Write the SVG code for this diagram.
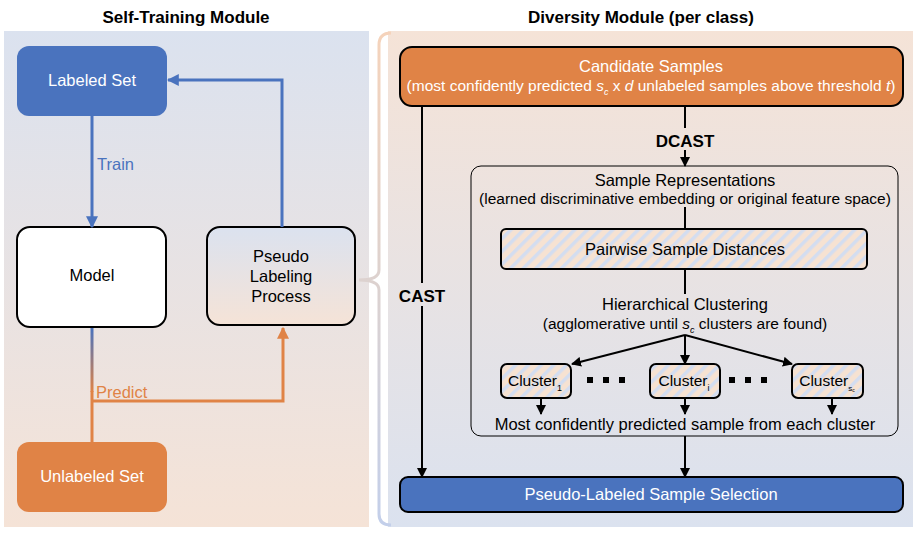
<svg xmlns="http://www.w3.org/2000/svg" width="918" height="534" viewBox="0 0 918 534">
<defs>
<linearGradient id="bgL" x1="0" y1="0" x2="0" y2="1"><stop offset="0" stop-color="#dbe2ef"/><stop offset="1" stop-color="#f5e3d7"/></linearGradient>
<linearGradient id="bgR" x1="0" y1="0" x2="0" y2="1"><stop offset="0" stop-color="#f5e3d7"/><stop offset="1" stop-color="#dbe2ef"/></linearGradient>
<linearGradient id="pseudoG" x1="0" y1="0" x2="0" y2="1"><stop offset="0" stop-color="#dbe2ef"/><stop offset="1" stop-color="#f5e3d7"/></linearGradient>
<linearGradient id="braceG" gradientUnits="userSpaceOnUse" x1="0" y1="33" x2="0" y2="525"><stop offset="0" stop-color="#f5d3bb"/><stop offset="0.5" stop-color="#ddd2cf"/><stop offset="1" stop-color="#c3cfea"/></linearGradient>
<linearGradient id="modelLine" gradientUnits="userSpaceOnUse" x1="0" y1="328" x2="0" y2="392"><stop offset="0" stop-color="#4a73be"/><stop offset="1" stop-color="#e08346"/></linearGradient>
<pattern id="hatch" width="9" height="9" patternUnits="userSpaceOnUse" patternTransform="rotate(45)">
<rect width="9" height="9" fill="#f6e2d2"/><rect width="3.5" height="9" fill="#d3ddf0"/>
</pattern>
<marker id="ab" viewBox="0 0 10 10" refX="9" refY="5" markerWidth="4" markerHeight="4" orient="auto"><path d="M0,0 L10,5 L0,10 z" fill="#4a73be"/></marker>
<marker id="ao" viewBox="0 0 10 10" refX="9" refY="5" markerWidth="4" markerHeight="4" orient="auto"><path d="M0,0 L10,5 L0,10 z" fill="#e08346"/></marker>
<marker id="ak" viewBox="0 0 10 10" refX="9" refY="5" markerWidth="5" markerHeight="5" orient="auto"><path d="M0,0 L10,5 L0,10 z" fill="#000"/></marker>
</defs>
<style>
text{font-family:"Liberation Sans",Arial,sans-serif;text-anchor:middle;}
.title{font-size:17px;font-weight:bold;fill:#000;}
.w{fill:#fff;font-size:16.5px;}
.k{fill:#000;font-size:16.5px;}
.s{fill:#000;font-size:15.5px;}
.c{fill:#000;font-size:15.5px;}
.bold{font-weight:bold;font-size:17px;fill:#000;}
.box{stroke:#000;stroke-width:2;}
.kl{stroke:#000;stroke-width:2;fill:none;}
</style>

<!-- backgrounds -->
<rect x="4" y="31" width="365" height="496" fill="url(#bgL)"/>
<rect x="388" y="31" width="525" height="496" fill="url(#bgR)"/>
<path d="M391,33 Q379,33 379,45 L379,270 Q379,280 359,280 Q379,280 379,290 L379,514 Q379,525 391,525" fill="none" stroke="url(#braceG)" stroke-width="3"/>
<text class="title" x="186" y="23">Self-Training Module</text>
<text class="title" x="641" y="23">Diversity Module (per class)</text>

<!-- left nodes -->
<g id="labeled"><rect x="17" y="46" width="150" height="70" rx="12" fill="#4a73be"/><text class="w" x="92" y="86">Labeled Set</text></g>
<g id="model"><rect x="17" y="227" width="149" height="100" rx="13" fill="#fff" class="box"/><text class="k" x="92" y="281">Model</text></g>
<g id="pseudo"><rect x="207" y="227" width="148" height="98" rx="13" fill="url(#pseudoG)" class="box"/>
<text class="k" x="281" y="262">Pseudo</text><text class="k" x="281" y="282">Labeling</text><text class="k" x="281" y="302">Process</text></g>
<g id="unlabeled"><rect x="17" y="442" width="150" height="70" rx="12" fill="#e08346"/><text class="w" x="92" y="482">Unlabeled Set</text></g>

<!-- right nodes -->
<g id="candidate"><rect x="400" y="47" width="503" height="59" rx="12" fill="#e08346" class="box"/>
<text class="w" x="651" y="72">Candidate Samples</text>
<text class="w" x="651" y="91" style="font-size:15.5px">(most confidently predicted <tspan font-style="italic">s</tspan><tspan font-size="9" font-style="italic" dy="4">c</tspan><tspan dy="-4"> x </tspan><tspan font-style="italic">d</tspan> unlabeled samples above threshold <tspan font-style="italic">t</tspan>)</text></g>
<g id="samplerep"><rect x="471" y="166" width="427" height="270" rx="10" fill="none" stroke="#000" stroke-width="1"/>
<text class="k" x="685" y="186">Sample Representations</text>
<text class="s" x="685" y="204">(learned discriminative embedding or original feature space)</text></g>
<g id="pairwise"><rect x="501" y="229" width="366" height="40" rx="5" fill="url(#hatch)" class="box"/><text class="k" x="685" y="255">Pairwise Sample Distances</text></g>
<g id="hier"><text class="k" x="685" y="310">Hierarchical Clustering</text>
<text class="s" x="685" y="329">(agglomerative until <tspan font-style="italic">s</tspan><tspan font-size="9" font-style="italic" dy="4">c</tspan><tspan dy="-4"> clusters are found)</tspan></text></g>
<g id="cluster1"><rect x="501" y="364" width="70" height="34" rx="6" fill="url(#hatch)" class="box"/><text class="c" x="535" y="386">Cluster<tspan font-size="9" dy="5">1</tspan></text></g>
<g id="clusteri"><rect x="650" y="364" width="70" height="34" rx="6" fill="url(#hatch)" class="box"/><text class="c" x="684" y="386">Cluster<tspan font-size="9" dy="5">i</tspan></text></g>
<g id="clustersc"><rect x="792" y="364" width="71" height="34" rx="6" fill="url(#hatch)" class="box"/><text class="c" x="827" y="386">Cluster<tspan font-size="8" dy="5">s</tspan><tspan font-size="5" dy="1">c</tspan></text></g>
<g id="dots" fill="#000"><rect x="587" y="377" width="6" height="6"/><rect x="603" y="377" width="6" height="6"/><rect x="619" y="377" width="6" height="6"/>
<rect x="729" y="377" width="6" height="6"/><rect x="745" y="377" width="6" height="6"/><rect x="761" y="377" width="6" height="6"/></g>
<g id="mostconf"><text class="k" x="685" y="430">Most confidently predicted sample from each cluster</text></g>
<g id="selection"><rect x="400" y="477" width="503" height="35" rx="8" fill="#4a73be" class="box"/><text class="w" x="651" y="500">Pseudo-Labeled Sample Selection</text></g>

<!-- connectors -->
<g id="connectors">
<line x1="92" y1="116" x2="92" y2="227" stroke="#4a73be" stroke-width="3" marker-end="url(#ab)"/>
<text x="97" y="170" fill="#4a73be" style="font-size:16.5px;text-anchor:start">Train</text>
<polyline points="282,227 282,80 168,80" fill="none" stroke="#4a73be" stroke-width="3" marker-end="url(#ab)"/>
<line x1="92" y1="328" x2="92" y2="392" stroke="url(#modelLine)" stroke-width="3"/>
<line x1="92" y1="391" x2="92" y2="442" stroke="#e08346" stroke-width="3"/>
<polyline points="92,401 283,401 283,328" fill="none" stroke="#e08346" stroke-width="3" marker-end="url(#ao)"/>
<text x="96" y="398" fill="#e08346" style="font-size:16.5px;text-anchor:start">Predict</text>

<line x1="422" y1="106" x2="422" y2="283" class="kl"/>
<line x1="422" y1="306" x2="422" y2="477" class="kl" marker-end="url(#ak)"/>
<text class="bold" x="422" y="302">CAST</text>
<line x1="685" y1="106" x2="685" y2="128" class="kl"/>
<line x1="685" y1="150" x2="685" y2="166" class="kl" marker-end="url(#ak)"/>
<text class="bold" x="685" y="147">DCAST</text>
<line x1="685" y1="207" x2="685" y2="229" class="kl"/>
<line x1="685" y1="269" x2="685" y2="294" class="kl"/>
<line x1="685" y1="335" x2="685" y2="364" class="kl" marker-end="url(#ak)"/>
<line x1="685" y1="335" x2="572" y2="364" class="kl" marker-end="url(#ak)"/>
<line x1="685" y1="335" x2="792" y2="364" class="kl" marker-end="url(#ak)"/>
<line x1="541" y1="398" x2="541" y2="414" class="kl" marker-end="url(#ak)"/>
<line x1="685" y1="398" x2="685" y2="414" class="kl" marker-end="url(#ak)"/>
<line x1="832" y1="398" x2="832" y2="414" class="kl" marker-end="url(#ak)"/>
<line x1="685" y1="436" x2="685" y2="477" class="kl" marker-end="url(#ak)"/>
</g>
</svg>
